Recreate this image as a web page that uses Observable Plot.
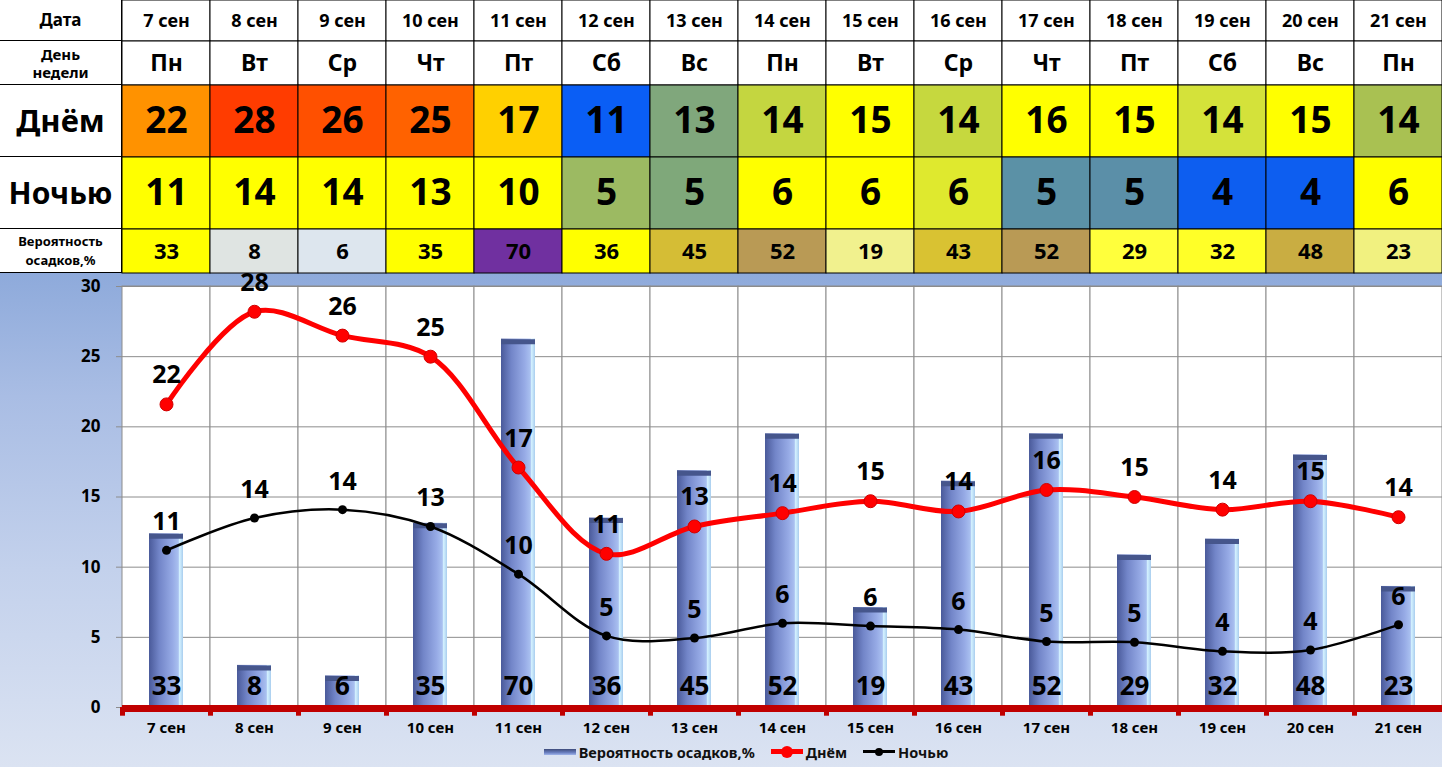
<!DOCTYPE html>
<html>
<head>
<meta charset="utf-8">
<script src="https://cdn.jsdelivr.net/npm/d3@7"></script>
<script src="https://cdn.jsdelivr.net/npm/@observablehq/plot@0.6"></script>
<style>
  html, body { margin: 0; padding: 0; background: white; }
  body { width: 1442px; height: 767px; overflow: hidden; font-family: "Noto Sans", sans-serif; }
  .row { display: flex; }
  .lab { width: 122px; box-sizing: border-box; border-right: 1px solid #000; border-bottom: 1px solid #000;
         display: flex; align-items: center; justify-content: center; text-align: center; font-weight: 700; color: #000; background: #fff; }
  #chart { width: 1442px; height: 494px; background: linear-gradient(to bottom, #8eaadb 0%, #a9bde4 25%, #c3d1ec 60%, #dbe3f2 100%); }
  #legend { height: 27px; display: flex; align-items: center; justify-content: center; padding-left: 50px; padding-bottom: 4px; box-sizing: border-box;
            font-size: 14.5px; font-weight: 700; color: #111; }
  .sw-bar { display: inline-block; width: 32px; height: 6px; background: linear-gradient(to bottom, #3c4a7a 0%, #6a7fc0 60%, #9fb4ea 100%); margin-right: 3px; }
  .sw-line { display: inline-block; position: relative; width: 32px; margin-right: 3px; vertical-align: middle; }
  .sw-line i { position: absolute; left: 50%; top: 50%; border-radius: 50%; transform: translate(-50%, -50%); }
</style>
</head>
<body>
<div id="table"></div>
<div id="chart"><div id="plot"></div>
  <div id="legend">
    <span class="sw-bar"></span><span>Вероятность осадков,%</span>
    <span class="sw-line" style="height:5px;background:#ff0000;margin-left:16px"><i style="width:12px;height:12px;background:#ff0000"></i></span><span>Днём</span>
    <span class="sw-line" style="height:2.5px;background:#000;margin-left:16px"><i style="width:8px;height:8px;background:#000"></i></span><span>Ночью</span>
  </div>
</div>
<script>
// ---------- data ----------
const dates = ["7 сен","8 сен","9 сен","10 сен","11 сен","12 сен","13 сен","14 сен","15 сен","16 сен","17 сен","18 сен","19 сен","20 сен","21 сен"];
const weekdays = ["Пн","Вт","Ср","Чт","Пт","Сб","Вс","Пн","Вт","Ср","Чт","Пт","Сб","Вс","Пн"];
const dayTemp = [22,28,26,25,17,11,13,14,15,14,16,15,14,15,14];
const nightTemp = [11,14,14,13,10,5,5,6,6,6,5,5,4,4,6];
const precip = [33,8,6,35,70,36,45,52,19,43,52,29,32,48,23];
// plotted (unrounded) values
const dayPlotted = [21.6,28.2,26.5,25.0,17.1,10.95,12.9,13.85,14.7,13.97,15.5,15.0,14.1,14.7,13.56];
const nightPlotted = [11.2,13.5,14.1,12.9,9.5,5.1,4.95,6.0,5.8,5.55,4.7,4.65,4.0,4.1,5.9];
// table cell colours
const dayColors = ["#ff9200","#ff3c00","#ff5000","#ff6200","#ffd000","#0a5ef5","#80a77c","#c4d640","#ffff00","#c6d83e","#ffff00","#ffff00","#d4e23a","#ffff00","#a9c152"];
const nightColors = ["#ffff00","#ffff00","#ffff00","#ffff00","#ffff00","#9cba62","#7fa87a","#ffff00","#ffff00","#dfe92e","#5b91a6","#5b8fa8","#0d5ef0","#0d5ef0","#ffff00"];
const precipColors = ["#ffff00","#dfe4e2","#dde6ee","#ffff00","#7030a0","#ffff00","#d5bd35","#b99a55","#f1f18e","#d9c232","#b99a55","#ffff3c","#ffff28","#c9ad42","#f1f180"];
const yTicks = [0,5,10,15,20,25,30];
const precipAxisMax = 80; // hidden secondary axis: 0..80 % maps onto 0..30

const FONT = "Noto Sans";

// ---------- table ----------
const tableEl = document.getElementById("table");
function tableRow(labelHtml, labelSize, lineHeight, h, texts, colors, fontSize) {
  const row = document.createElement("div");
  row.className = "row";
  row.style.height = h + "px";
  const lab = document.createElement("div");
  lab.className = "lab";
  lab.style.fontSize = labelSize + "px";
  lab.style.lineHeight = lineHeight;
  lab.innerHTML = labelHtml;
  row.appendChild(lab);
  const data = dates.map((d, i) => ({date: d, text: String(texts[i]), color: colors ? colors[i] : "#ffffff"}));
  const p = Plot.plot({
    width: 1320, height: h, margin: 0,
    x: {domain: dates, padding: 0, axis: null},
    style: {background: "transparent", overflow: "visible", fontFamily: FONT},
    marks: [
      Plot.cell(data, {x: "date", fill: "color", stroke: "#000", strokeWidth: 1}),
      Plot.text(data, {x: "date", text: "text", frameAnchor: "middle", fontSize, fontWeight: 700, fill: "#000"})
    ]
  });
  row.appendChild(p);
  tableEl.appendChild(row);
}
tableRow("Дата", 17, "1.2", 41, dates, null, 18);
tableRow("День<br>недели", 15, "1.2", 44, weekdays, null, 23);
tableRow("Днём", 31, "1.2", 72, dayTemp, dayColors, 37);
tableRow("Ночью", 30, "1.2", 72, nightTemp, nightColors, 37);
tableRow("Вероятность<br>осадков,%", 13, "1.4", 44, precip, precipColors, 22);

// ---------- chart ----------
const rows = dates.map((d, i) => ({
  date: d, day: dayTemp[i], night: nightTemp[i], prob: precip[i],
  dayY: dayPlotted[i], nightY: nightPlotted[i]
}));
const W = 1442, ML = 122, MR = 0;
const bw = (W - ML - MR) / dates.length;

const chart = Plot.plot({
  width: W, height: 467,
  marginLeft: ML, marginRight: MR, marginTop: 13, marginBottom: 33,
  x: {domain: dates, padding: 0},
  y: {domain: [0, 30]},
  style: {background: "transparent", overflow: "visible", fontFamily: FONT, color: "#000"},
  marks: [
    Plot.cell(dates, {x: d => d, fill: "white", stroke: "#8c8c8c", strokeWidth: 1}),
    Plot.ruleY(yTicks.filter(t => t > 0), {stroke: "#8c8c8c", strokeWidth: 1}),
    Plot.axisY({ticks: yTicks, tickSize: 6, tickPadding: 16, fontSize: 17, fontWeight: 700, stroke: "#8c8c8c", fill: "#000", label: null}),
    Plot.barY(rows, {x: "date", y: d => d.prob * 30 / precipAxisMax, fill: "url(#barGrad)", insetLeft: 27, insetRight: 27, ariaLabel: "precip-bar"}),
    Plot.tickY(rows, {x: "date", y: d => d.prob * 30 / precipAxisMax, stroke: "#46568c", strokeWidth: 5, dy: 2.5, insetLeft: 27, insetRight: 27}),
    Plot.ruleY([0], {stroke: "#c00000", strokeWidth: 7, dy: 1}),
    Plot.ruleX(dates, {x: d => d, y1: 0, y2: -0.62, dx: -bw / 2, stroke: "#c00000", strokeWidth: 5}),
    Plot.text(rows, {x: "date", text: d => String(d.prob), frameAnchor: "bottom", lineAnchor: "middle", dy: -21, fontSize: 26, fontWeight: 700, fill: "#000"}),
    Plot.line(rows, {x: "date", y: "nightY", stroke: "#000", strokeWidth: 2.5, curve: "catmull-rom"}),
    Plot.dot(rows, {x: "date", y: "nightY", r: 4.5, fill: "#000"}),
    Plot.line(rows, {x: "date", y: "dayY", stroke: "#ff0000", strokeWidth: 5, curve: "catmull-rom"}),
    Plot.dot(rows, {x: "date", y: "dayY", r: 6.5, fill: "#ff0000", stroke: "#d00000", strokeWidth: 1}),
    Plot.text(rows, {x: "date", y: "nightY", text: d => String(d.night), dy: -28, fontSize: 25, fontWeight: 700, fill: "#000"}),
    Plot.text(rows, {x: "date", y: "dayY", text: d => String(d.day), dy: -29, fontSize: 25, fontWeight: 700, fill: "#000"}),
    Plot.axisX({tickSize: 0, tickPadding: 15, fontSize: 15, fontWeight: 700, fill: "#000", label: null})
  ]
});

// gradient + shadow definitions for the 3D-looking bars
const svg = d3.select(chart);
const defs = svg.insert("defs", ":first-child");
const g = defs.append("linearGradient").attr("id", "barGrad").attr("x1", "0").attr("x2", "1").attr("y1", "0").attr("y2", "0");
[["0%", "#4a5a9a"], ["30%", "#7285c8"], ["70%", "#97abe6"], ["86%", "#a9c0f0"], ["90%", "#d4f2ff"], ["100%", "#a9cdee"]]
  .forEach(([o, c]) => g.append("stop").attr("offset", o).attr("stop-color", c));
const f = defs.append("filter").attr("id", "barShadow").attr("x", "-20%").attr("y", "-10%").attr("width", "160%").attr("height", "130%");
f.append("feDropShadow").attr("dx", 4).attr("dy", 2).attr("stdDeviation", 2.5).attr("flood-color", "#000").attr("flood-opacity", 0.35);
svg.selectAll('g[aria-label="precip-bar"]').attr("filter", "url(#barShadow)");

document.getElementById("plot").appendChild(chart);
</script>
</body>
</html>
